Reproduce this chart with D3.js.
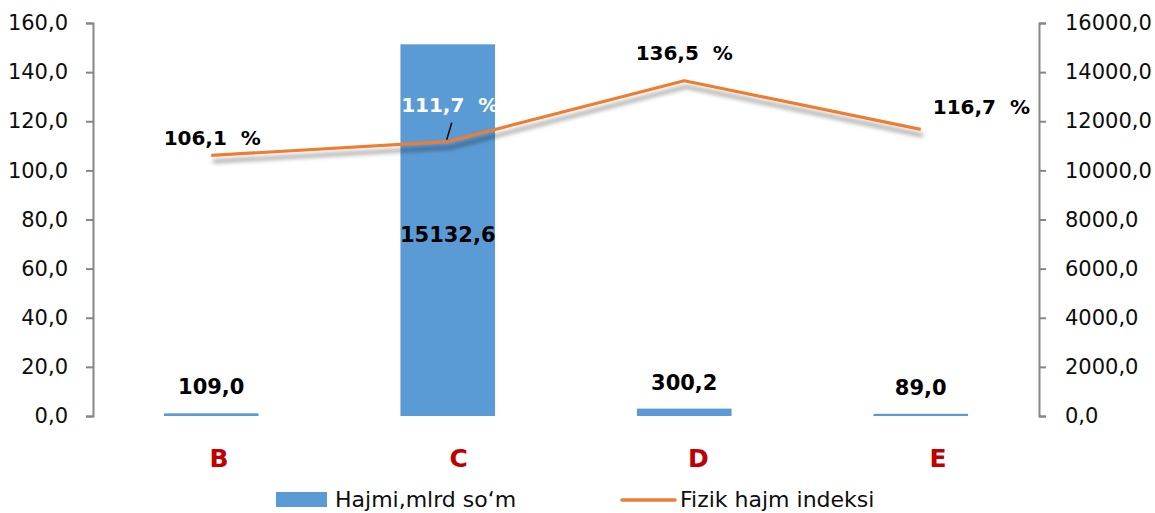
<!DOCTYPE html>
<html>
<head>
<meta charset="utf-8">
<script src="https://cdn.jsdelivr.net/npm/d3@7"></script>
<style>
  body { margin: 0; background: #fff; }
  svg { display: block; font-family: "DejaVu Sans", sans-serif; }
</style>
</head>
<body>
<div id="chart"></div>
<script>
// data
const categories = ["B", "C", "D", "E"];
const volume = [109.0, 15132.6, 300.2, 89.0];       // Hajmi, mlrd so'm (right axis)
const index = [106.1, 111.7, 136.5, 116.7];         // Fizik hajm indeksi, % (left axis)
const leftTicks = [0, 20, 40, 60, 80, 100, 120, 140, 160];
const rightTicks = [0, 2000, 4000, 6000, 8000, 10000, 12000, 14000, 16000];
const seriesNames = ["Hajmi,mlrd so\u2018m", "Fizik hajm indeksi"];

const width = 1155, height = 513;
const margin = {top: 23, bottom: 97, left: 93, right: 116};
const blue = "#5b9bd5", orange = "#ed7d31", axisGrey = "#868686";

const fmt = d => d.toFixed(1).replace(".", ",");

const svg = d3.select("#chart").append("svg")
  .attr("width", width)
  .attr("height", height);

const defs = svg.append("defs");
defs.append("filter")
  .attr("id", "shadow")
  .attr("x", "-10%").attr("y", "-50%")
  .attr("width", "120%").attr("height", "200%")
  .append("feDropShadow")
  .attr("dx", 2).attr("dy", 6)
  .attr("stdDeviation", 2.2)
  .attr("flood-color", "#000")
  .attr("flood-opacity", 0.4);

const x = d3.scaleBand(categories, [margin.left, width - margin.right])
  .paddingInner(0.6).paddingOuter(0.3);
const yL = d3.scaleLinear([0, 160], [height - margin.bottom, margin.top]);
const yR = d3.scaleLinear([0, 16000], [height - margin.bottom, margin.top]);
// category labels sit a little right of the bar centres in the original
const xLabel = d3.scalePoint(categories, [219, 938]);

// axes
const axisL = svg.append("g")
  .attr("transform", `translate(${margin.left},0)`)
  .call(d3.axisLeft(yL).tickValues(leftTicks).tickSize(7).tickSizeOuter(7).tickPadding(18).tickFormat(fmt));
const axisR = svg.append("g")
  .attr("transform", `translate(${width - margin.right},0)`)
  .call(d3.axisRight(yR).tickValues(rightTicks).tickSize(7).tickSizeOuter(7).tickPadding(19).tickFormat(fmt));

[axisL, axisR].forEach(g => {
  g.select(".domain").attr("stroke", axisGrey).attr("stroke-width", 2);
  g.selectAll(".tick line").attr("stroke", axisGrey).attr("stroke-width", 2);
  g.selectAll(".tick text")
    .attr("fill", "#0d0d0d")
    .attr("font-size", 21)
    .attr("font-family", "DejaVu Sans, sans-serif");
});

// bars
svg.append("g")
  .selectAll("rect")
  .data(categories)
  .join("rect")
  .attr("x", d => x(d))
  .attr("width", x.bandwidth())
  .attr("y", (d, i) => yR(volume[i]))
  .attr("height", (d, i) => Math.max(2, yR(0) - yR(volume[i])))
  .attr("fill", blue);

// line with soft shadow
const line = d3.line()
  .x((d, i) => x(categories[i]) + x.bandwidth() / 2)
  .y(d => yL(d));

svg.append("path")
  .datum(index)
  .attr("d", line)
  .attr("fill", "none")
  .attr("stroke", orange)
  .attr("stroke-width", 3.2)
  .attr("stroke-linejoin", "round")
  .attr("filter", "url(#shadow)");

// bar value labels
svg.append("g")
  .attr("font-size", 21)
  .attr("font-weight", "bold")
  .attr("text-anchor", "middle")
  .selectAll("text")
  .data(categories)
  .join("text")
  .attr("x", d => x(d) + x.bandwidth() / 2)
  .attr("y", (d, i) => volume[i] > 5000 ? (yR(volume[i]) + yR(0)) / 2 + 12 : yR(volume[i]) - 19)
  .attr("fill", "#000")
  .text((d, i) => fmt(volume[i]));

// line value labels: offsets from each point [dx, dy, anchor, colour]
const idxLabelPos = [[1, -10, "middle", "#000"], [2, -30, "middle", "#fff"], [0, -21, "middle", "#000"], [12, -15, "start", "#000"]];
const lbl = svg.append("g")
  .attr("font-size", 20)
  .attr("font-weight", "bold");
lbl.selectAll("text")
  .data(categories)
  .join("text")
  .attr("x", (d, i) => x(d) + x.bandwidth() / 2 + idxLabelPos[i][0])
  .attr("y", (d, i) => yL(index[i]) + idxLabelPos[i][1])
  .attr("text-anchor", (d, i) => idxLabelPos[i][2])
  .attr("fill", (d, i) => idxLabelPos[i][3])
  .attr("xml:space", "preserve")
  .style("white-space", "pre")
  .text((d, i) => fmt(index[i]) + "  %");

// leader line for the C label
const cx = x("C") + x.bandwidth() / 2;
svg.append("line")
  .attr("x1", cx + 4).attr("y1", yL(index[1]) - 19)
  .attr("x2", cx - 1).attr("y2", yL(index[1]) - 2)
  .attr("stroke", "#000")
  .attr("stroke-width", 1.5);

// category labels
svg.append("g")
  .attr("font-size", 25)
  .attr("font-weight", "bold")
  .attr("text-anchor", "middle")
  .attr("fill", "#c00000")
  .selectAll("text")
  .data(categories)
  .join("text")
  .attr("x", d => xLabel(d))
  .attr("y", 467)
  .text(d => d);

// legend
const legend = svg.append("g").attr("font-size", 22).attr("fill", "#0d0d0d");
legend.append("rect")
  .attr("x", 276).attr("y", 492)
  .attr("width", 51).attr("height", 15)
  .attr("fill", blue);
legend.append("text")
  .attr("x", 335).attr("y", 507)
  .text(seriesNames[0]);
legend.append("line")
  .attr("x1", 622).attr("x2", 675)
  .attr("y1", 500).attr("y2", 500)
  .attr("stroke", orange)
  .attr("stroke-width", 3.5)
  .attr("stroke-linecap", "round");
legend.append("text")
  .attr("x", 680).attr("y", 507)
  .text(seriesNames[1]);
</script>
</body>
</html>
